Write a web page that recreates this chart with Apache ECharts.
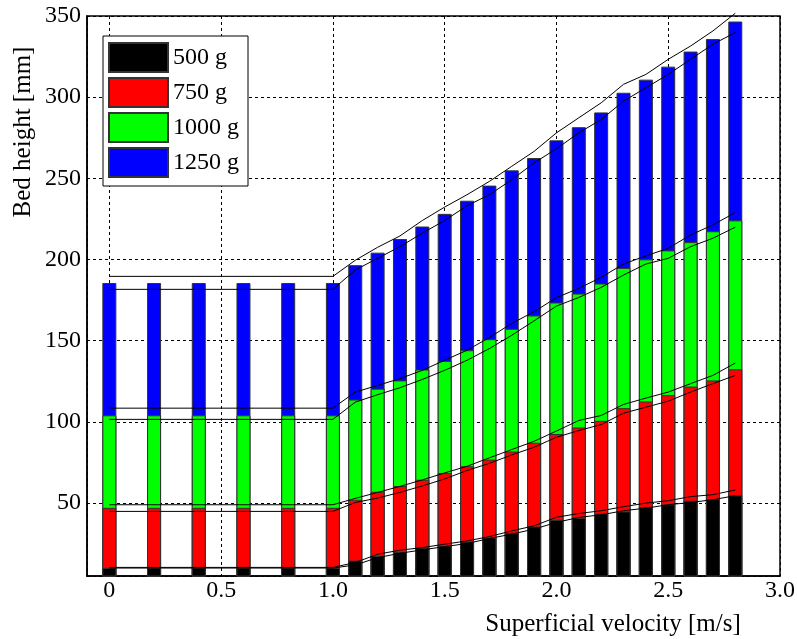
<!DOCTYPE html>
<html>
<head>
<meta charset="utf-8">
<title>Bed height vs superficial velocity</title>
<script src="https://cdn.jsdelivr.net/npm/echarts@6/dist/echarts.min.js"></script>
<style>
  html, body { margin: 0; padding: 0; background: #fff; }
  #chart { width: 797px; height: 639px; }
</style>
</head>
<body>
<div id="chart"></div>
<script>
// Superficial velocity of each measurement [m/s]
const velocity = [0, 0.2, 0.4, 0.6, 0.8, 1.0, 1.1, 1.2, 1.3, 1.4, 1.5, 1.6, 1.7, 1.8,
  1.9, 2.0, 2.1, 2.2, 2.3, 2.4, 2.5, 2.6, 2.7, 2.8];

// Measured bed height [mm] for each bed mass
const height500 = [10, 10, 10, 10, 10, 10, 14.5, 17.4, 19.9, 22.4, 23.6, 26.2, 28.7, 31.6,
  35.5, 39.6, 40.8, 43.4, 44.8, 47.6, 49.1, 51.4, 52.4, 54.7];
const height750 = [47, 47, 47, 47, 47, 47, 52.0, 56.9, 60.4, 64.3, 68.4, 72.6, 76.7, 81.7,
  87.1, 92.5, 96.5, 100.6, 108.4, 112.5, 116.4, 121.7, 125.5, 132.3];
const height1000 = [104, 104, 104, 104, 104, 104, 113.7, 120.4, 125.5, 132.2, 137.5, 144.1,
  150.9, 157.3, 165.5, 173.5, 179.0, 185.2, 194.8, 200.1, 205.6, 210.7, 217.4, 224.1];
const height1250 = [185.5, 185.5, 185.5, 185.5, 185.5, 185.5, 196.5, 204.2, 212.6, 220.3,
  228.1, 236.2, 245.5, 254.9, 262.5, 273.4, 281.5, 290.6, 302.7, 310.8, 318.8, 328.1,
  335.8, 346.6];

// Velocities at which the predicted bands are given [m/s]
const bandVelocity = [0, 1.0, 1.1, 1.2, 1.3, 1.4, 1.5, 1.6, 1.7, 1.8, 1.9, 2.0, 2.1, 2.2,
  2.3, 2.4, 2.5, 2.6, 2.7, 2.8];

// Upper / lower limits of the predicted bed height [mm]
const upper500 = [10.3, 10.3, 13.3, 18.4, 20.9, 22.5, 24.6, 26.6, 29.3, 32.8, 35.9, 41.2,
  43.5, 45.2, 47.7, 49.9, 51.4, 53.9, 55.1, 58.0];
const lower500 = [9.9, 9.9, 11.8, 16.3, 19.0, 21.1, 23.1, 25.0, 28.1, 30.8, 33.9, 38.0,
  41.1, 42.7, 45.2, 46.8, 48.9, 50.3, 52.0, 54.5];
const upper750 = [48.9, 48.9, 52.8, 56.5, 60.2, 64.2, 68.5, 72.6, 77.8, 82.9, 88.0, 94.3,
  100.8, 103.9, 110.7, 114.6, 118.3, 123.5, 128.6, 136.2];
const lower750 = [44.8, 44.8, 50.3, 53.0, 56.5, 60.5, 64.8, 70.0, 74.4, 79.6, 84.3, 90.5,
  94.6, 98.3, 105.3, 109.0, 112.7, 118.3, 123.5, 128.6];
const upper1000 = [108.4, 108.4, 118.3, 122.4, 126.6, 131.7, 137.9, 144.1, 151.9, 160.6,
  167.8, 176.5, 182.2, 189.0, 197.2, 202.2, 206.9, 215.1, 221.3, 228.9];
const lower1000 = [101.5, 101.5, 112.1, 116.7, 121.0, 126.1, 131.7, 137.9, 145.1, 153.3,
  162.2, 171.3, 176.6, 182.8, 190.4, 197.2, 200.7, 207.9, 213.1, 219.9];
const upper1250 = [189.6, 189.6, 199.5, 207.5, 214.5, 224.0, 232.3, 239.9, 248.1, 257.4,
  266.6, 278.0, 287.3, 296.5, 307.9, 314.0, 323.3, 331.5, 340.8, 351.7];
const lower1250 = [181.6, 181.6, 193.5, 200.7, 207.9, 216.2, 224.0, 233.1, 239.9, 249.1,
  259.5, 268.2, 278.0, 286.2, 297.5, 305.8, 314.0, 323.3, 332.6, 339.8];

const massNames = ['500 g', '750 g', '1000 g', '1250 g'];
const massColors = ['#000000', '#ff0000', '#00ff00', '#0000ff'];

const FONT = '"Liberation Serif", "DejaVu Serif", serif';

function pairs(xs, ys) {
  return xs.map((x, i) => [x, ys[i]]);
}

function barSeries(name, color, values) {
  return {
    name: name,
    type: 'bar',
    barWidth: 14,
    barGap: '-100%',
    data: pairs(velocity, values),
    itemStyle: { color: color, borderColor: '#333', borderWidth: 1 },
    emphasis: { disabled: true },
    silent: true
  };
}

function bandSeries(values) {
  return {
    type: 'line',
    data: pairs(bandVelocity, values),
    symbol: 'none',
    clip: false,
    lineStyle: { color: '#000', width: 1 },
    silent: true,
    z: 3
  };
}

// Tallest bed first so that the smaller masses are drawn in front
const series = [
  barSeries(massNames[3], massColors[3], height1250),
  barSeries(massNames[2], massColors[2], height1000),
  barSeries(massNames[1], massColors[1], height750),
  barSeries(massNames[0], massColors[0], height500),
  bandSeries(upper1250), bandSeries(lower1250),
  bandSeries(upper1000), bandSeries(lower1000),
  bandSeries(upper750), bandSeries(lower750),
  bandSeries(upper500), bandSeries(lower500)
];

const dashed = { show: true, lineStyle: { color: '#000', width: 1, type: [3, 3] } };

const chart = echarts.init(document.getElementById('chart'), null, { renderer: 'canvas' });
chart.setOption({
  animation: false,
  backgroundColor: '#fff',
  textStyle: { fontFamily: FONT },
  grid: {
    left: 87, top: 16, right: 17, bottom: 63,
    containLabel: false,
    outerBoundsMode: 'none',
    show: true,
    borderColor: '#000',
    borderWidth: 1.5,
    backgroundColor: 'transparent'
  },
  legend: {
    data: massNames,
    orient: 'vertical',
    left: 103,
    top: 36,
    itemWidth: 59,
    itemHeight: 29,
    itemGap: 4,
    padding: [6, 9, 8, 5],
    borderColor: '#000',
    borderWidth: 1,
    backgroundColor: '#fff',
    icon: 'rect',
    selectedMode: false,
    textStyle: { fontFamily: FONT, fontSize: 24, color: '#000', lineHeight: 29 }
  },
  xAxis: {
    type: 'value',
    min: -0.1,
    max: 3.0,
    splitNumber: 6,
    axisLine: { show: true, onZero: false, lineStyle: { color: '#000', width: 1.5 } },
    axisTick: { show: false },
    splitLine: dashed,
    axisLabel: {
      showMinLabel: false,
      margin: 3,
      fontFamily: FONT,
      fontSize: 24,
      color: '#000',
      formatter: v => (v === 0 ? '0' : v.toFixed(1))
    }
  },
  yAxis: {
    type: 'value',
    min: 5,
    max: 350,
    splitNumber: 7,
    axisLine: { show: true, onZero: false, lineStyle: { color: '#000', width: 1.5 } },
    axisTick: { show: false },
    splitLine: dashed,
    axisLabel: {
      showMinLabel: false,
      margin: 6,
      fontFamily: FONT,
      fontSize: 24,
      color: '#000'
    }
  },
  graphic: [
    {
      type: 'text',
      x: 613, y: 624,
      silent: true,
      style: {
        text: 'Superficial velocity [m/s]',
        font: '25px ' + FONT,
        fill: '#000',
        align: 'center', verticalAlign: 'middle',
        textAlign: 'center', textVerticalAlign: 'middle'
      }
    },
    {
      type: 'text',
      x: 23, y: 132,
      rotation: Math.PI / 2,
      silent: true,
      style: {
        text: 'Bed height [mm]',
        font: '25px ' + FONT,
        fill: '#000',
        align: 'center', verticalAlign: 'middle',
        textAlign: 'center', textVerticalAlign: 'middle'
      }
    }
  ],
  series: series
});
</script>
</body>
</html>
